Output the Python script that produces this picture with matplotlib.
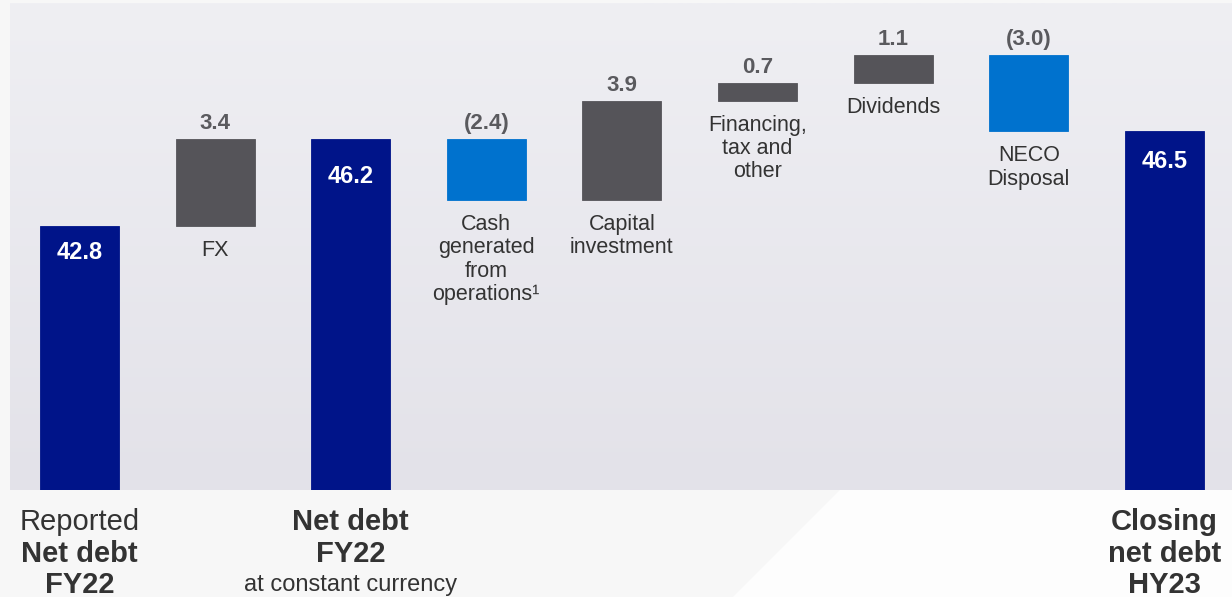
import matplotlib.pyplot as plt
import numpy as np
from matplotlib.patches import Polygon

plt.rcParams['font.family'] = ['Liberation Sans', 'DejaVu Sans']

# Net debt bridge, £bn
values = [42.8, 3.4, 46.2, -2.4, 3.9, 0.7, 1.1, -3.0, 46.5]
kinds = ['total', 'step', 'total', 'step', 'step', 'step', 'step', 'step', 'total']
value_labels = ['42.8', '3.4', '46.2', '(2.4)', '3.9', '0.7', '1.1', '(3.0)', '46.5']
step_labels = ['', 'FX', '', 'Cash\ngenerated\nfrom\noperations\u00b9',
               'Capital\ninvestment', 'Financing,\ntax and\nother', 'Dividends',
               'NECO\nDisposal', '']
# bottom captions: (text, bold) per line
totals_captions = {
    0: [('Reported', False), ('Net debt', True), ('FY22', True)],
    2: [('Net debt', True), ('FY22', True), ('at constant currency', False)],
    8: [('Closing', True), ('net debt', True), ('HY23', True)],
}
# how far the white value sits below the top of each total bar (points)
inside_offsets = {0: -19, 2: -27, 8: -22}

NAVY = '#001489'
GREY = '#555459'
BLUE = '#0072ce'
TEXT = '#333333'
VALUE_GREY = '#5a5a5e'

W, H = 1232, 597
fig = plt.figure(figsize=(W / 100, H / 100), dpi=100)
fig.patch.set_facecolor('#f7f7f7')

# white diagonal area under the panel on the right
fig.patches.append(Polygon([(840 / W, 1 - 490 / H), (1, 1 - 490 / H), (1, 0), (733 / W, 0)],
                           closed=True, transform=fig.transFigure, facecolor='#fdfdfd',
                           edgecolor='none', zorder=-1))

# plot panel: x 10..1232, y 3..490 px
ax = fig.add_axes([10 / W, 1 - 490 / H, 1 - 10 / W, 487 / H])
grad = np.linspace(0, 1, 256).reshape(-1, 1)
top_c = np.array([239, 239, 243]) / 255
bot_c = np.array([227, 226, 233]) / 255
img = top_c * (1 - grad[..., None]) + bot_c * grad[..., None]
ax.imshow(img, extent=[0, 1, 0, 1], transform=ax.transAxes, aspect='auto', zorder=0)

floor = 32.44
x = np.arange(len(values))
bottoms, heights, colors = [], [], []
running = 0.0
for v, k in zip(values, kinds):
    if k == 'total':
        bottoms.append(floor)
        heights.append(v - floor)
        colors.append(NAVY)
        running = v
    else:
        lo = running if v > 0 else running + v
        bottoms.append(lo)
        heights.append(abs(v))
        colors.append(GREY if v > 0 else BLUE)
        running += v

ax.bar(x, heights, bottom=bottoms, width=0.583, color=colors,
       edgecolor=colors, linewidth=0.6, zorder=2)

for i, (b, h, k) in enumerate(zip(bottoms, heights, kinds)):
    top = b + h
    if k == 'total':
        ax.annotate(value_labels[i], (i, top), xytext=(0, inside_offsets[i]),
                    textcoords='offset points', ha='center', va='center', color='white',
                    fontsize=17, fontweight='bold', zorder=3)
    else:
        ax.annotate(value_labels[i], (i, top), xytext=(0, 11), textcoords='offset points',
                    ha='center', va='center', color=VALUE_GREY, fontsize=16, fontweight='bold',
                    zorder=3)
        ax.annotate(step_labels[i], (i, b), xytext=(0, -10), textcoords='offset points',
                    ha='center', va='top', color=TEXT, fontsize=15.5, linespacing=1.15,
                    zorder=3)

line_y = [-(519 - 487) / 487, -(551 - 487) / 487, -(582 - 487) / 487]
for i, lines in totals_captions.items():
    for (txt, bold), yy in zip(lines, line_y):
        small = txt.startswith('at ')
        ax.text(i, yy, txt, transform=ax.get_xaxis_transform(), ha='center', va='center',
                fontsize=17 if small else 21, fontweight='bold' if bold else 'normal',
                color=TEXT, clip_on=False)

ax.set_xlim(-0.5125, 8.499)
ax.set_ylim(floor, 51.53)
ax.axis('off')

fig.savefig('out.png', dpi=100, facecolor=fig.get_facecolor())
